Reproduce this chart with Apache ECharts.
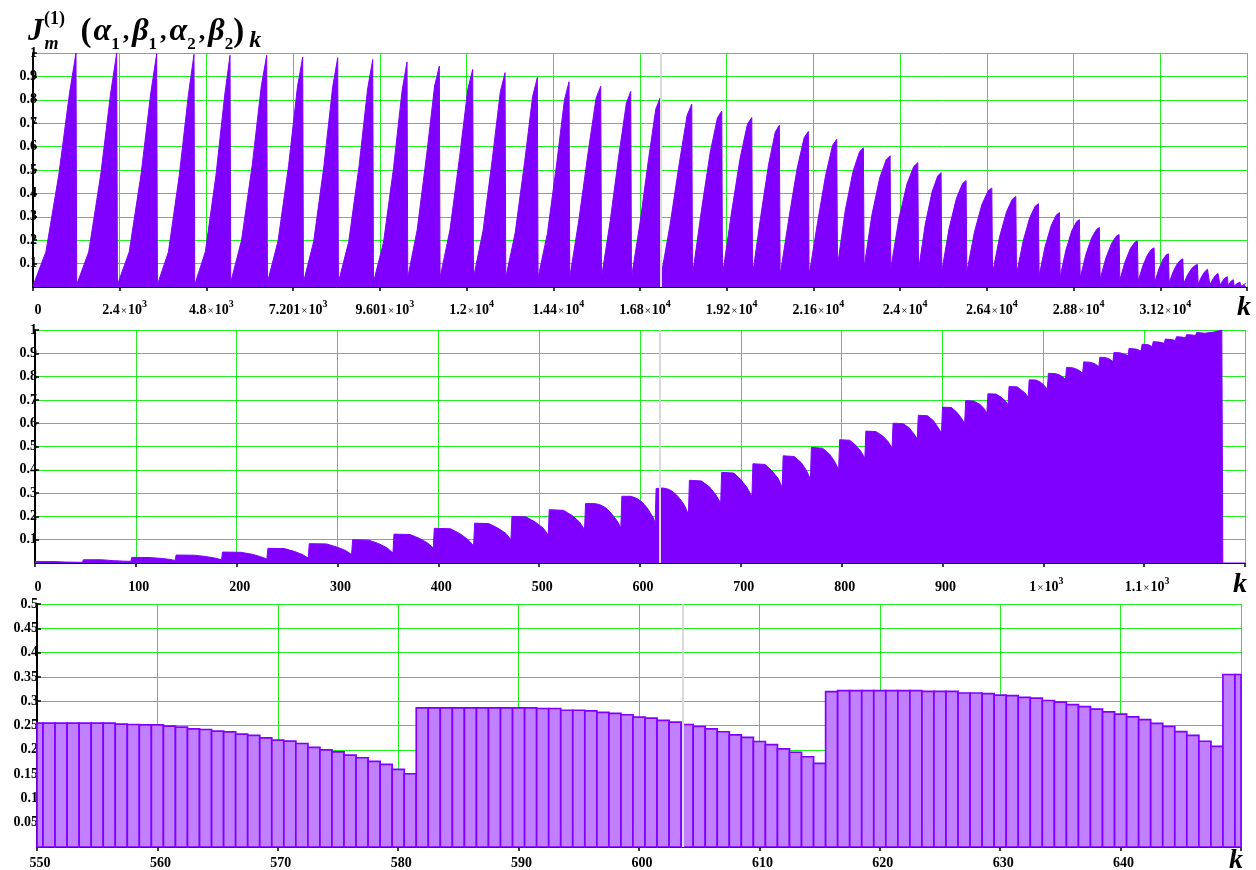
<!DOCTYPE html>
<html>
<head>
<meta charset="utf-8">
<script src="https://cdn.jsdelivr.net/npm/echarts@6/dist/echarts.min.js"></script>
<style>
  html, body { margin: 0; padding: 0; background: #fff; overflow: hidden; }
  #chart { width: 1256px; height: 870px; }
</style>
</head>
<body>
<div id="chart"></div>
<script>
// ---- Upper panel: J_m^(1) over the full k range, one [k, value] list per tooth ----
const upperTeeth = [
  [[0,0.005],[357,0.15],[714,0.48],[1012,0.83],[1190,1.0]],
  [[1210,0.01],[1542,0.15],[1874,0.48],[2151,0.83],[2317,1.0]],
  [[2337,0.01],[2663,0.15],[2989,0.48],[3261,0.83],[3424,0.997]],
  [[3444,0.01],[3748,0.15],[4051,0.48],[4304,0.825],[4456,0.994]],
  [[4476,0.01],[4769,0.15],[5062,0.475],[5306,0.82],[5453,0.99]],
  [[5473,0.02],[5772,0.2],[6071,0.525],[6320,0.86],[6469,0.99]],
  [[6489,0.02],[6782,0.197],[7075,0.52],[7319,0.855],[7465,0.983]],
  [[7485,0.02],[7770,0.196],[8054,0.52],[8292,0.853],[8434,0.98]],
  [[8454,0.02],[8739,0.194],[9023,0.515],[9261,0.846],[9403,0.972]],
  [[9423,0.02],[9702,0.192],[9980,0.51],[10213,0.837],[10352,0.962]],
  [[10372,0.04],[10634,0.245],[10896,0.566],[11115,0.859],[11246,0.944]],
  [[11266,0.04],[11538,0.242],[11809,0.558],[12035,0.846],[12171,0.93]],
  [[12191,0.04],[12453,0.238],[12715,0.55],[12934,0.834],[13065,0.916]],
  [[13085,0.04],[13347,0.233],[13609,0.537],[13828,0.814],[13959,0.895]],
  [[13979,0.04],[14236,0.228],[14493,0.526],[14707,0.798],[14836,0.877]],
  [[14856,0.04],[15113,0.292],[15371,0.583],[15585,0.807],[15714,0.858]],
  [[15734,0.04],[15977,0.284],[16220,0.568],[16423,0.786],[16544,0.836]],
  [[16564,0.04],[16801,0.275],[17039,0.549],[17236,0.76],[17355,0.808]],
  [[17375,0.04],[17632,0.266],[17890,0.531],[18104,0.734],[18233,0.781]],
  [[18253,0.05],[18496,0.323],[18739,0.572],[18942,0.722],[19063,0.752]],
  [[19083,0.05],[19326,0.311],[19570,0.55],[19772,0.695],[19894,0.724]],
  [[19914,0.05],[20137,0.297],[20360,0.525],[20546,0.663],[20658,0.691]],
  [[20678,0.05],[20913,0.286],[21147,0.505],[21343,0.638],[21460,0.665]],
  [[21480,0.05],[21710,0.271],[21940,0.48],[22131,0.606],[22246,0.631]],
  [[22266,0.09],[22481,0.327],[22696,0.494],[22875,0.577],[22983,0.595]],
  [[23003,0.084],[23219,0.309],[23434,0.466],[23614,0.544],[23722,0.561]],
  [[23742,0.08],[23966,0.292],[24190,0.441],[24377,0.515],[24489,0.531]],
  [[24509,0.073],[24696,0.269],[24883,0.406],[25039,0.474],[25133,0.489]],
  [[25153,0.068],[25355,0.25],[25556,0.378],[25724,0.441],[25825,0.455]],
  [[25845,0.063],[26053,0.233],[26260,0.351],[26433,0.41],[26537,0.423]],
  [[26557,0.058],[26750,0.213],[26943,0.321],[27104,0.375],[27201,0.387]],
  [[27221,0.053],[27403,0.196],[27585,0.295],[27736,0.345],[27827,0.356]],
  [[27847,0.048],[28015,0.175],[28184,0.264],[28324,0.308],[28408,0.318]],
  [[28428,0.043],[28588,0.158],[28748,0.239],[28882,0.279],[28962,0.288]],
  [[28982,0.038],[29142,0.14],[29302,0.211],[29435,0.246],[29515,0.254]],
  [[29535,0.034],[29693,0.123],[29850,0.186],[29981,0.217],[30060,0.224]],
  [[30080,0.03],[30226,0.108],[30372,0.164],[30494,0.191],[30567,0.197]],
  [[30587,0.025],[30720,0.092],[30852,0.139],[30963,0.162],[31029,0.167]],
  [[31049,0.021],[31162,0.078],[31275,0.118],[31369,0.138],[31425,0.142]],
  [[31445,0.018],[31559,0.066],[31672,0.1],[31767,0.116],[31824,0.12]],
  [[31844,0.014],[31959,0.053],[32074,0.08],[32170,0.093],[32228,0.096]],
  [[32248,0.012],[32339,0.043],[32430,0.065],[32506,0.076],[32552,0.078]],
  [[32572,0.009],[32652,0.033],[32731,0.05],[32797,0.058],[32837,0.06]],
  [[32857,0.007],[32917,0.024],[32978,0.037],[33028,0.043],[33058,0.044]],
  [[33078,0.005],[33122,0.017],[33166,0.026],[33202,0.03],[33224,0.031]],
  [[33244,0.003],[33300,0.012],[33355,0.018],[33401,0.021],[33429,0.022]],
  [[33449,0.002],[33487,0.008],[33525,0.012],[33557,0.014],[33576,0.015]]
];

// ---- Middle panel: k = 0 .. 1200, one [k, value] list per tooth ----
const middleTeeth = [
  [[0,0.006],[20,0.006],[30,0.004],[47,0.003]],
  [[48,0.014],[66,0.014],[78,0.010],[88,0.008],[95,0.007]],
  [[96,0.024],[113,0.0236],[124,0.020],[133,0.016],[139,0.011]],
  [[140,0.034],[158,0.0334],[169,0.028],[178,0.0216],[185,0.014]],
  [[186,0.047],[204,0.046],[215,0.038],[223,0.028],[230,0.017]],
  [[231,0.063],[247,0.062],[257,0.050],[265,0.037],[271,0.021]],
  [[272,0.083],[289,0.082],[299,0.069],[308,0.054],[314,0.036]],
  [[315,0.1],[331,0.098],[341,0.083],[349,0.065],[355,0.043]],
  [[356,0.124],[372,0.122],[381,0.106],[389,0.087],[395,0.064]],
  [[396,0.149],[412,0.147],[421,0.127],[429,0.102],[435,0.074]],
  [[436,0.171],[450,0.169],[459,0.15],[467,0.127],[472,0.1]],
  [[473,0.2],[487,0.198],[496,0.176],[504,0.15],[509,0.12]],
  [[510,0.229],[524,0.226],[533,0.203],[540,0.176],[545,0.143]],
  [[546,0.255],[556,0.2548],[561,0.2486],[566,0.237],[570,0.2199],[574,0.2],[578,0.176],[581,0.1507]],
  [[582,0.2864],[591,0.2864],[597,0.2771],[601,0.265],[604,0.2521],[607,0.2371],[610,0.2171],[613,0.195],[615,0.1721]],
  [[616,0.3197],[623,0.3218],[628,0.3169],[632,0.3077],[636,0.293],[640,0.2732],[644,0.2479],[646,0.2296],[648,0.207]],
  [[649,0.355],[661,0.352],[669,0.326],[675,0.294],[680,0.257]],
  [[681,0.389],[693,0.386],[700,0.358],[706,0.325],[711,0.286]],
  [[712,0.426],[724,0.423],[731,0.395],[737,0.363],[741,0.324]],
  [[742,0.46],[753,0.457],[760,0.43],[765,0.398],[769,0.36]],
  [[770,0.496],[781,0.493],[788,0.467],[793,0.436],[797,0.4]],
  [[798,0.529],[808,0.527],[814,0.505],[819,0.48],[823,0.45]],
  [[824,0.566],[834,0.564],[841,0.544],[846,0.521],[850,0.494]],
  [[851,0.6],[861,0.598],[867,0.58],[871,0.558],[875,0.533]],
  [[876,0.634],[885,0.632],[891,0.611],[895,0.586],[899,0.557]],
  [[900,0.669],[909,0.667],[914,0.648],[918,0.626],[922,0.6]],
  [[923,0.697],[931,0.695],[937,0.681],[941,0.664],[944,0.643]],
  [[945,0.726],[953,0.725],[958,0.712],[962,0.697],[965,0.679]],
  [[966,0.757],[974,0.756],[978,0.743],[982,0.729],[985,0.711]],
  [[986,0.786],[993,0.785],[998,0.774],[1001,0.761],[1004,0.746]],
  [[1005,0.814],[1012,0.813],[1016,0.807],[1019,0.799],[1022,0.789]],
  [[1023,0.839],[1029,0.838],[1033,0.832],[1036,0.825],[1039,0.814]],
  [[1040,0.863],[1046,0.862],[1050,0.857],[1053,0.85],[1055,0.84]],
  [[1056,0.883],[1061,0.882],[1065,0.877],[1067,0.871],[1069,0.864]],
  [[1070,0.903],[1076,0.902],[1079,0.898],[1082,0.894],[1084,0.889]],
  [[1085,0.921],[1092,0.918],[1097,0.91]],
  [[1098,0.939],[1104,0.937],[1108,0.929]],
  [[1109,0.95],[1115,0.948],[1120,0.943]],
  [[1121,0.961],[1127,0.959],[1131,0.955]],
  [[1132,0.971],[1137,0.97],[1141,0.966]],
  [[1142,0.98],[1147,0.979],[1151,0.976]],
  [[1152,0.989],[1156,0.988],[1160,0.986]],
  [[1161,0.994],[1170,0.992]],
  [[1171,0.999],[1177,1.0]],
  [[1178,0],[1200,0]]
];

// ---- Lower panel: one bar per k, k = 550 .. 650 ----
const lowerStartK = 550;
const lowerValues = [
  0.2548, 0.2548, 0.2548, 0.2548, 0.2548, 0.2548, 0.2548, 0.2527, 0.2521, 0.2514,
  0.2514, 0.2486, 0.2466, 0.2432, 0.2418, 0.2384, 0.2370, 0.2322, 0.2295, 0.2247,
  0.2199, 0.2178, 0.2130, 0.2048, 0.2000, 0.1959, 0.1890, 0.1836, 0.1760, 0.1699,
  0.1596, 0.1507,
  0.2864, 0.2864, 0.2864, 0.2864, 0.2864, 0.2864, 0.2864, 0.2864, 0.2864, 0.2864,
  0.2850, 0.2850, 0.2814, 0.2814, 0.2800, 0.2771, 0.2750, 0.2721, 0.2671, 0.2650,
  0.2607, 0.2571, 0.2521, 0.2479, 0.2429, 0.2371, 0.2307, 0.2257, 0.2171, 0.2107,
  0.2021, 0.1950, 0.1857, 0.1721,
  0.3197, 0.3218, 0.3218, 0.3218, 0.3218, 0.3218, 0.3218, 0.3218, 0.3204, 0.3204,
  0.3204, 0.3169, 0.3169, 0.3155, 0.3127, 0.3113, 0.3077, 0.3063, 0.3014, 0.2979,
  0.2930, 0.2887, 0.2838, 0.2782, 0.2732, 0.2676, 0.2620, 0.2542, 0.2479, 0.2373,
  0.2296, 0.2176, 0.2070,
  0.3549, 0.3549
];

// trace cursor positions (k) in each panel
const upperCursorK = 17380;
const middleCursorK = 620;
const lowerCursorK = 603.6;

// tick labels
const upperTickMant = ['0','2.4','4.8','7.201','9.601','1.2','1.44','1.68','1.92','2.16','2.4','2.64','2.88','3.12'];
const upperTickExp  = ['', '3','3','3','3','4','4','4','4','4','4','4','4','4'];
const middleTickMant = ['0','100','200','300','400','500','600','700','800','900','1','1.1'];
const middleTickExp  = ['','','','','','','','','','','3','3'];
const lowerTickText = ['550','560','570','580','590','600','610','620','630','640'];
const tenthLabels = ['', '0.1','0.2','0.3','0.4','0.5','0.6','0.7','0.8','0.9','1'];
const twentiethLabels = ['', '0.05','0.1','0.15','0.2','0.25','0.3','0.35','0.4','0.45','0.5'];

const SERIF = '"Liberation Serif", "Times New Roman", serif';
const PURPLE = '#8000ff';
const LIGHT_PURPLE = '#c080ff';
const GRID_GREEN = '#22ee22';
const CURSOR_GRAY = '#d9d9d9';

const tickRich = {
  b: { fontFamily: SERIF, fontWeight: 'bold', fontSize: 14, lineHeight: 18, color: '#000', verticalAlign: 'bottom' },
  x: { fontFamily: SERIF, fontSize: 11, lineHeight: 18, color: '#000', verticalAlign: 'bottom', padding: [0, 1, 0, 1] },
  e: { fontFamily: SERIF, fontWeight: 'bold', fontSize: 10, lineHeight: 10, color: '#000', verticalAlign: 'top' },
  k: { fontFamily: SERIF, fontWeight: 'bold', fontStyle: 'italic', fontSize: 28, lineHeight: 18, color: '#000', padding: [0, 16, 0, 0] }
};

function sciLabel(m, e) {
  return e ? '{b|' + m + '}{x|×}{b|10}{e|' + e + '}' : '{b|' + m + '}';
}

function xAxisBase(gridIndex, min, max, interval, margin, padLeft, formatter) {
  return {
    type: 'value', gridIndex: gridIndex, min: min, max: max, interval: interval,
    axisLine: { show: true, onZero: false, lineStyle: { color: '#000', width: 1 } },
    axisTick: { show: true, inside: false, length: 4, lineStyle: { color: '#000', width: 1.5 } },
    splitLine: { show: true, lineStyle: { color: GRID_GREEN, width: 1, opacity: 1 } },
    axisLabel: {
      show: true, margin: margin, padding: [0, 0, 0, padLeft], formatter: formatter, rich: tickRich,
      showMinLabel: true, showMaxLabel: true, hideOverlap: false, color: '#000'
    }
  };
}

function yAxisBase(gridIndex, max, interval, labels, margin) {
  return {
    type: 'value', gridIndex: gridIndex, min: 0, max: max, interval: interval,
    axisLine: { show: true, onZero: false, lineStyle: { color: '#000', width: 2 } },
    axisTick: { show: true, inside: true, length: 4, lineStyle: { color: '#000', width: 1.5 } },
    splitLine: { show: true, lineStyle: { color: GRID_GREEN, width: 1 } },
    axisLabel: {
      show: true, margin: margin, color: '#000', fontFamily: SERIF, fontWeight: 'bold', fontSize: 14,
      showMinLabel: true, showMaxLabel: true, hideOverlap: false,
      formatter: function (v) { return labels[Math.round(v / interval)] || ''; }
    }
  };
}

function cursor(k) {
  return {
    symbol: 'none', silent: true, animation: false,
    label: { show: false },
    lineStyle: { color: CURSOR_GRAY, width: 2, type: 'solid' },
    data: [{ xAxis: k }]
  };
}

// one unit-wide bar per k, centred on k and clipped to the plot area
function renderUnitBar(params, api) {
  const k = api.value(0);
  const v = api.value(1);
  const topLeft = api.coord([k - 0.5, v]);
  const bottomRight = api.coord([k + 0.5, 0]);
  const cs = params.coordSys;
  const shape = echarts.graphic.clipRectByRect(
    { x: topLeft[0], y: topLeft[1], width: bottomRight[0] - topLeft[0], height: bottomRight[1] - topLeft[1] },
    { x: cs.x, y: cs.y - 2, width: cs.width, height: cs.height + 2 }
  );
  if (!shape) return null;
  return {
    type: 'rect',
    shape: shape,
    style: { fill: LIGHT_PURPLE, stroke: PURPLE, lineWidth: 1.7 }
  };
}

const upperData = upperTeeth.flat();
const middleData = middleTeeth.flat();
const lowerData = lowerValues.map(function (v, i) { return [lowerStartK + i, v]; });

const chart = echarts.init(document.getElementById('chart'), null, { renderer: 'canvas', width: 1256, height: 870 });

chart.setOption({
  animation: false,
  backgroundColor: '#fff',
  title: [
    {
      left: 23, top: 6,
      text: '{J|J}{m|m}{p|(}{g|α}{s|1}{c|,}{g|β}{s|1}{c|,}{g|α}{s|2}{c|,}{g|β}{s|2}{p|)}{k|k}',
      textStyle: {
        rich: {
          J: { fontFamily: SERIF, fontStyle: 'italic', fontWeight: 'bold', fontSize: 31, lineHeight: 42, color: '#000' },
          m: { fontFamily: SERIF, fontStyle: 'italic', fontWeight: 'bold', fontSize: 18, lineHeight: 30, verticalAlign: 'bottom', color: '#000', padding: [0, 22, 0, 1] },
          p: { fontFamily: SERIF, fontSize: 33, lineHeight: 42, color: '#000', padding: [0, 2, 0, 0] },
          g: { fontFamily: SERIF, fontStyle: 'italic', fontWeight: 'bold', fontSize: 32, lineHeight: 42, color: '#000' },
          s: { fontFamily: SERIF, fontWeight: 'bold', fontSize: 17, lineHeight: 26, verticalAlign: 'bottom', color: '#000' },
          c: { fontFamily: SERIF, fontWeight: 'bold', fontSize: 26, lineHeight: 42, color: '#000', padding: [0, 3, 0, 3] },
          k: { fontFamily: SERIF, fontStyle: 'italic', fontWeight: 'bold', fontSize: 24, lineHeight: 30, verticalAlign: 'bottom', color: '#000', padding: [0, 0, 0, 3] }
        }
      }
    },
    {
      left: 39, top: 5, text: '(1)',
      textStyle: { fontFamily: SERIF, fontWeight: 'bold', fontSize: 18, color: '#000' }
    }
  ],
  grid: [
    { left: 33, right: 9, top: 53, height: 234, containLabel: false, outerBoundsMode: 'none' },
    { left: 35, right: 11, top: 330, height: 233, containLabel: false, outerBoundsMode: 'none' },
    { left: 37, right: 15, top: 604, height: 243, containLabel: false, outerBoundsMode: 'none' }
  ],
  xAxis: [
    xAxisBase(0, 0, 33600, 2400, 12, 10, function (v) {
      const i = Math.round(v / 2400);
      if (i >= upperTickMant.length) return '{k|k}';
      return sciLabel(upperTickMant[i], upperTickExp[i]);
    }),
    xAxisBase(1, 0, 1200, 100, 13, 6, function (v) {
      const i = Math.round(v / 100);
      if (i >= middleTickMant.length) return '{k|k}';
      return sciLabel(middleTickMant[i], middleTickExp[i]);
    }),
    xAxisBase(2, 550, 650, 10, 5, 6, function (v) {
      const i = Math.round((v - 550) / 10);
      if (i >= lowerTickText.length) return '{k|k}';
      return '{b|' + lowerTickText[i] + '}';
    })
  ],
  yAxis: [
    yAxisBase(0, 1, 0.1, tenthLabels, -4),
    yAxisBase(1, 1, 0.1, tenthLabels, -2),
    yAxisBase(2, 0.5, 0.05, twentiethLabels, -1)
  ],
  series: [
    {
      type: 'line', xAxisIndex: 0, yAxisIndex: 0, data: upperData,
      symbol: 'none', showSymbol: false, smooth: false,
      lineStyle: { color: PURPLE, width: 1 },
      itemStyle: { color: PURPLE },
      areaStyle: { color: PURPLE, opacity: 1 },
      markLine: cursor(upperCursorK)
    },
    {
      type: 'line', xAxisIndex: 1, yAxisIndex: 1, data: middleData,
      symbol: 'none', showSymbol: false, smooth: false,
      lineStyle: { color: PURPLE, width: 1 },
      itemStyle: { color: PURPLE },
      areaStyle: { color: PURPLE, opacity: 1 },
      markLine: cursor(middleCursorK)
    },
    {
      type: 'custom', xAxisIndex: 2, yAxisIndex: 2, data: lowerData,
      encode: { x: 0, y: 1 },
      renderItem: renderUnitBar
    },
    {
      type: 'line', xAxisIndex: 2, yAxisIndex: 2, data: [],
      symbol: 'none', z: 5,
      markLine: cursor(lowerCursorK)
    }
  ]
});
</script>
</body>
</html>
